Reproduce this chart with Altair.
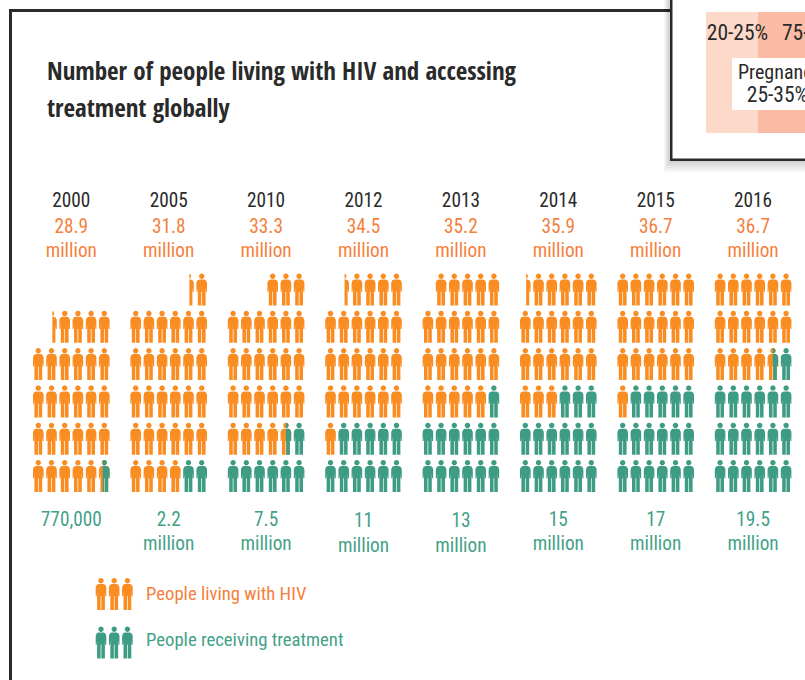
import math
import altair as alt
import pandas as pd

# Figures per year, in millions of people
years = ["2000", "2005", "2010", "2012", "2013", "2014", "2015", "2016"]
living_millions = [28.9, 31.8, 33.3, 34.5, 35.2, 35.9, 36.7, 36.7]
treated_millions = [0.77, 2.2, 7.5, 11, 13, 15, 17, 19.5]
treated_labels = ["770,000", "2.2", "7.5", "11", "13", "15", "17", "19.5"]
treated_has_unit = [False, True, True, True, True, True, True, True]
# Visible width of the one cut-off figure in each group
living_cut_share = [0.42, 0.42, 0, 0.42, 0, 0.42, 0, 0]
treated_cut_share = [0.65, 0, 0.5, 0, 0, 0, 0, 0.5]

title_lines = ["Number of people living with HIV and accessing", "treatment globally"]
legend_names = ["People living with HIV", "People receiving treatment"]

ORANGE, GREEN = "#f98d22", "#3e9c84"
LABEL_ORANGE, LABEL_GREEN = "#f57f3c", "#43a188"
DARK = "#2a2a2a"
FONT = "Roboto Condensed"
TITLE_FONT = "Open Sans Condensed"
BODY_SIZE = 19.3
W, H = 805, 680

SLOT_PX, ROW_PX = 13.2, 37.3
ORIGIN_X, ORIGIN_Y = 38.3, 476.0
GROUP_SLOTS = 97.4 / SLOT_PX
PER_ROW = 6

BODY = [(-2.6, -10.0), (2.6, -10.0), (4.4, -9.0), (5.3, -6.8), (5.3, 2.3), (4.2, 2.3),
        (4.05, -1.0), (3.9, -1.0), (3.9, 16), (0.35, 16), (0.35, 2.2), (-0.35, 2.2),
        (-0.35, 16), (-3.9, 16), (-3.9, -1.0), (-4.05, -1.0), (-4.2, 2.3), (-5.3, 2.3),
        (-5.3, -6.8), (-4.4, -9.0)]
HEAD = [(2.7 * math.cos(i * math.pi / 8), -13.3 + 2.7 * math.sin(i * math.pi / 8)) for i in range(16)]
FULL_WIDTH = 10.6


def keep_right(poly, cut):
    """Clip a polygon to the half plane x >= cut."""
    out = []
    for i, (x0, y0) in enumerate(poly):
        x1, y1 = poly[(i + 1) % len(poly)]
        if x0 >= cut:
            out.append((x0, y0))
        if (x0 >= cut) != (x1 >= cut):
            t = (cut - x0) / (x1 - x0)
            out.append((cut, y0 + t * (y1 - y0)))
    return out


def person(share=1.0):
    """SVG path of a standing figure, showing its right-hand `share` of the width."""
    cut = FULL_WIDTH / 2 - FULL_WIDTH * share
    parts = []
    for poly in (BODY, HEAD):
        clipped = keep_right(poly, cut)
        if len(clipped) >= 3:
            coords = " L ".join(f"{x / 16:.4f} {y / 16:.4f}" for x, y in clipped)
            parts.append(f"M {coords} Z")
    return " ".join(parts)


def slot_position(group, k):
    """Figures fill each group from the bottom row, right to left."""
    col = PER_ROW - 1 - k % PER_ROW
    return group * GROUP_SLOTS + col, k // PER_ROW


rows = []
for g, (living, treated, live_cut, treat_cut) in enumerate(
        zip(living_millions, treated_millions, living_cut_share, treated_cut_share)):
    whole_living, whole_treated = int(living), int(treated)
    for k in range(whole_living):
        x, y = slot_position(g, k)
        series = "treated" if k < whole_treated else "living"
        rows.append({"x": x, "y": y, "series": series, "glyph": person(), "order": 0})
    if live_cut:
        x, y = slot_position(g, whole_living)
        rows.append({"x": x, "y": y, "series": "living", "glyph": person(live_cut), "order": 0})
    if treat_cut:
        x, y = slot_position(g, whole_treated)
        rows.append({"x": x, "y": y, "series": "treated", "glyph": person(treat_cut), "order": 1})

# Key figures share the same slot and row scales as the groups above
key_slots = [(101 - ORIGIN_X) / SLOT_PX + i for i in range(3)]
for name, series, row in [(legend_names[0], "living", (ORIGIN_Y - 594) / ROW_PX),
                          (legend_names[1], "treated", (ORIGIN_Y - 642.5) / ROW_PX)]:
    for s in key_slots:
        rows.append({"x": s, "y": row, "series": series, "glyph": person(), "order": 0})

x_scale = alt.Scale(domain=[-ORIGIN_X / SLOT_PX, (W - ORIGIN_X) / SLOT_PX], range=[0, W], nice=False, zero=False)
y_scale = alt.Scale(domain=[(ORIGIN_Y - H) / ROW_PX, ORIGIN_Y / ROW_PX], range=[H, 0], nice=False, zero=False)
X = alt.X("x:Q", scale=x_scale, axis=None)
Y = alt.Y("y:Q", scale=y_scale, axis=None)

people = alt.Chart(pd.DataFrame(rows).sort_values("order")).mark_point(
    filled=True, opacity=1, strokeWidth=0
).encode(
    x=X, y=Y,
    shape=alt.Shape("glyph:N", scale=None),
    size=alt.value(1024),
    color=alt.Color("series:N", scale=alt.Scale(domain=["living", "treated"], range=[ORANGE, GREEN]), legend=None),
    order=alt.Order("order:Q"),
)


def group_centre(g):
    return g * GROUP_SLOTS + (PER_ROW - 1) / 2


def row_of(px):
    return (ORIGIN_Y - px) / ROW_PX


label_rows = []
for g, year in enumerate(years):
    c = group_centre(g)
    label_rows.append({"x": c, "y": row_of(201), "text": year, "kind": "year"})
    label_rows.append({"x": c, "y": row_of(227), "text": f"{living_millions[g]}", "kind": "living"})
    label_rows.append({"x": c, "y": row_of(250.5), "text": "million", "kind": "living"})
    low = 2 if years[g] in ("2012", "2013") else 0
    label_rows.append({"x": c, "y": row_of(520 + (1 if low else 0)), "text": treated_labels[g], "kind": "treated"})
    if treated_has_unit[g]:
        label_rows.append({"x": c, "y": row_of(544 + low), "text": "million", "kind": "treated"})

labels = alt.Chart(pd.DataFrame(label_rows)).mark_text(font=FONT, fontSize=BODY_SIZE, baseline="middle").encode(
    x=X, y=Y, text="text:N",
    color=alt.Color("kind:N", scale=alt.Scale(domain=["year", "living", "treated"],
                                              range=[DARK, LABEL_ORANGE, LABEL_GREEN]), legend=None),
)


def px_rect(x0, x1, y0, y1, color, opacity=1.0):
    return alt.Chart(pd.DataFrame({"a": [0]})).mark_rect(color=color, opacity=opacity).encode(
        x=alt.value(x0), x2=alt.value(x1), y=alt.value(y0), y2=alt.value(y1))


def px_text(x, y, text, color=DARK, size=BODY_SIZE, align="left", font=FONT):
    return alt.Chart(pd.DataFrame({"t": [text]})).mark_text(
        font=font, fontSize=size, align=align, baseline="middle", color=color
    ).encode(x=alt.value(x), y=alt.value(y), text="t:N")


frame = [px_rect(9, 12, 9, H, DARK), px_rect(9, 700, 9, 12, DARK), px_rect(12, W, 12, H, "white")]

# Soft shadow falling below and left of the inset panel
shadow = [px_rect(670 - i, W, 0, 160 + 2 * i, "#000000", 0.03) for i in range(1, 7)]

inset = [
    px_rect(670, W, 0, 161, DARK),
    px_rect(672.5, W, 0, 158.5, "white"),
    px_rect(706, 758, 12, 133, "#fdd9ca"),
    px_rect(758, W, 12, 133, "#fbbba5"),
    px_rect(732, W, 58, 110, "white"),
    px_text(737.5, 34, "20-25%", align="center", size=21.5),
    px_text(782, 34, "75-80%", size=21.5),
    px_text(738, 73, "Pregnancy", size=20),
    px_text(777.5, 96, "25-35%", align="center", size=21.5),
]

title = [px_text(47, 71.5, title_lines[0], size=25, font=TITLE_FONT),
         px_text(47, 108.5, title_lines[1], size=25, font=TITLE_FONT)]

key_text = [px_text(146, 594, legend_names[0], size=18.7, color=LABEL_ORANGE),
            px_text(146, 640, legend_names[1], size=18.7, color=LABEL_GREEN)]

chart = alt.layer(*frame, *shadow, *inset, *title, people, labels, *key_text).resolve_scale(
    color="independent"
).properties(
    width=W, height=H, padding=0, background="white",
    autosize=alt.AutoSizeParams(type="none"),
).configure_view(stroke=None)

chart.save("out.html", embed_options={"renderer": "svg", "actions": False})
